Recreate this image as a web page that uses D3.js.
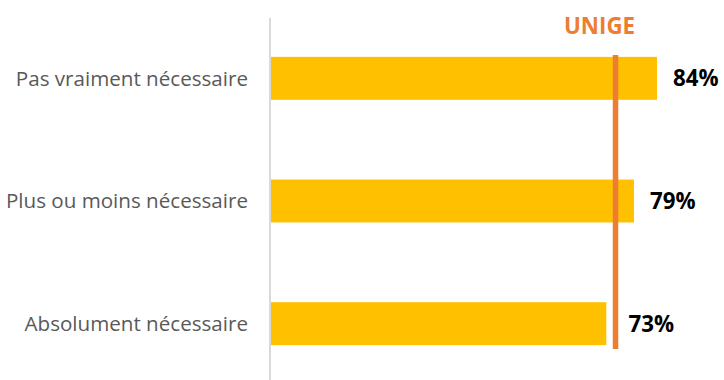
<!DOCTYPE html>
<html>
<head>
<meta charset="utf-8">
<script src="https://cdn.jsdelivr.net/npm/d3@7"></script>
<style>
  html, body { margin: 0; padding: 0; background: #fff; }
  svg { display: block; }
</style>
</head>
<body>
<svg id="chart" width="724" height="380"></svg>
<script>
// Categories, top to bottom
const categories = ["Pas vraiment nécessaire", "Plus ou moins nécessaire", "Absolument nécessaire"];
// Share per category (%)
const values = [84, 79, 73];
// Reference line value (%)
const referenceLabel = "UNIGE";
const referenceValue = 75;

const svg = d3.select("#chart");
const font = "'Open Sans', 'Noto Sans', sans-serif";

const x = d3.scaleLinear().domain([0, 100]).range([270, 730.7]);
const y = d3.scaleBand()
  .domain(categories)
  .range([17, 385])
  .paddingInner(0.65)
  .paddingOuter(0.325);

// Vertical axis line
svg.append("line")
  .attr("x1", x(0)).attr("x2", x(0))
  .attr("y1", 18).attr("y2", 380)
  .attr("stroke", "#D9D9D9").attr("stroke-width", 2);

// Bars
svg.selectAll("rect.bar")
  .data(categories)
  .join("rect")
  .attr("class", "bar")
  .attr("x", x(0) + 1)
  .attr("y", d => y(d))
  .attr("width", (d, i) => x(values[i]) - x(0) - 1)
  .attr("height", y.bandwidth())
  .attr("fill", "#FFC000");

// Category labels
svg.selectAll("text.cat")
  .data(categories)
  .join("text")
  .attr("class", "cat")
  .attr("x", 248)
  .attr("y", d => y(d) + y.bandwidth() / 2)
  .attr("dy", "0.36em")
  .attr("text-anchor", "end")
  .attr("font-family", font)
  .attr("font-size", 20.6)
  .attr("fill", "#595959")
  .text(d => d);

// Reference line
svg.append("line")
  .attr("x1", x(referenceValue)).attr("x2", x(referenceValue))
  .attr("y1", 55).attr("y2", 349)
  .attr("stroke", "#ED7D31").attr("stroke-width", 5.5);

svg.append("text")
  .attr("x", x(referenceValue) - 16)
  .attr("y", 34)
  .attr("text-anchor", "middle")
  .attr("font-family", font)
  .attr("font-weight", "bold")
  .attr("font-size", 22.3)
  .attr("fill", "#ED7D31")
  .text(referenceLabel);

// Value labels
svg.selectAll("text.val")
  .data(categories)
  .join("text")
  .attr("class", "val")
  .attr("x", (d, i) => Math.max(x(values[i]) + 16, x(referenceValue) + 13))
  .attr("y", d => y(d) + y.bandwidth() / 2)
  .attr("dy", "0.36em")
  .attr("font-family", font)
  .attr("font-weight", "bold")
  .attr("font-size", 22.3)
  .attr("fill", "#000")
  .text((d, i) => values[i] + "%");
</script>
</body>
</html>
